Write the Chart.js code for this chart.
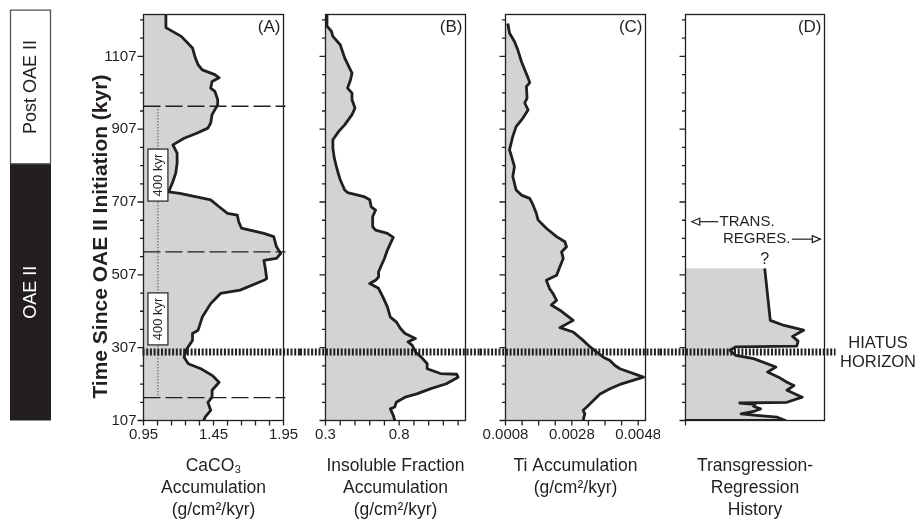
<!DOCTYPE html>
<html>
<head>
<meta charset="utf-8">
<title>OAE II records</title>
<script src="https://cdn.jsdelivr.net/npm/chart.js@4.4.1/dist/chart.umd.min.js"></script>
<style>
  body { margin: 0; background: #fff; }
  #fig { position: relative; width: 918px; height: 520px; overflow: hidden; }
  #fig canvas { position: absolute; top: 0; }
</style>
</head>
<body>
<div id="fig">
  <canvas id="panelA" width="300" height="520" style="left:0px"></canvas>
  <canvas id="panelB" width="180" height="520" style="left:300px"></canvas>
  <canvas id="panelC" width="180" height="520" style="left:480px"></canvas>
  <canvas id="panelD" width="258" height="520" style="left:660px"></canvas>
</div>
<script>
// shared time axis (kyr since OAE II initiation)
const yMin = 107, yMax = 1222;
const yTicks = [107, 157, 207, 257, 307, 357, 407, 457, 507, 557, 607, 657, 707, 757, 807, 857, 907, 957, 1007, 1057, 1107, 1157, 1207];
const yTickLabels = ['107', '', '', '', '307', '', '', '', '507', '', '', '', '707', '', '', '', '907', '', '', '', '1107', '', ''];

// event markers
const hiatusKyr = 295;
const cycleKyr = [970, 570, 170];        // dashed lines in panel A
const cycleLabelKyr = [781, 386];         // "400 kyr" boxes
const oaeEndKyr = 812;                    // OAE II / Post OAE II boundary
const barTopKyr = 1234;

// (A) CaCO3 accumulation
const caco3Time = [1222, 1186, 1162, 1130, 1103, 1084, 1070, 1057, 1048, 1038, 1020, 1011, 988, 974, 947, 924, 910, 896, 882, 864, 841, 813, 786, 763, 735, 731, 713, 694, 676, 671, 653, 635, 630, 621, 612, 584, 566, 552, 547, 525, 497, 492, 465, 456, 428, 391, 355, 346, 327, 304, 281, 263, 249, 231, 212, 190, 171, 157, 135, 116, 107];
const caco3Value = [1.11, 1.11, 1.22, 1.30, 1.32, 1.34, 1.37, 1.46, 1.49, 1.44, 1.43, 1.46, 1.48, 1.48, 1.44, 1.43, 1.41, 1.33, 1.24, 1.16, 1.19, 1.19, 1.18, 1.16, 1.13, 1.21, 1.43, 1.49, 1.55, 1.62, 1.63, 1.65, 1.71, 1.81, 1.88, 1.90, 1.93, 1.90, 1.81, 1.82, 1.83, 1.81, 1.64, 1.50, 1.43, 1.37, 1.34, 1.30, 1.30, 1.26, 1.24, 1.27, 1.36, 1.44, 1.49, 1.44, 1.44, 1.41, 1.43, 1.39, 1.38];
const caco3Ticks = [0.95, 1.05, 1.15, 1.25, 1.35, 1.45, 1.55, 1.65, 1.75, 1.85, 1.95];
const caco3Labels = ['0.95', '', '', '', '', '1.45', '', '', '', '', '1.95'];

// (B) insoluble fraction accumulation
const insolTime = [1222, 1190, 1176, 1162, 1139, 1103, 1061, 1043, 1020, 1006, 988, 965, 947, 919, 901, 878, 855, 827, 795, 768, 740, 733, 722, 713, 694, 685, 667, 639, 630, 621, 610, 593, 575, 552, 534, 515, 501, 492, 483, 470, 446, 419, 391, 378, 359, 346, 332, 323, 313, 295, 281, 263, 249, 236, 234, 226, 208, 194, 180, 171, 157, 144, 139, 121, 107];
const insolValue = [0.31, 0.31, 0.34, 0.35, 0.40, 0.43, 0.48, 0.47, 0.45, 0.48, 0.48, 0.50, 0.48, 0.43, 0.39, 0.35, 0.35, 0.36, 0.38, 0.40, 0.43, 0.45, 0.56, 0.60, 0.61, 0.64, 0.62, 0.62, 0.64, 0.72, 0.76, 0.74, 0.72, 0.70, 0.68, 0.66, 0.66, 0.64, 0.60, 0.66, 0.69, 0.72, 0.74, 0.78, 0.81, 0.84, 0.91, 0.86, 0.89, 0.91, 0.95, 0.99, 0.99, 1.08, 1.19, 1.20, 1.12, 1.01, 0.92, 0.84, 0.78, 0.77, 0.74, 0.76, 0.77];
const insolTicks = [0.3, 0.4, 0.5, 0.6, 0.7, 0.8, 0.9, 1.0, 1.1, 1.2];
const insolLabels = ['0.3', '', '', '', '', '0.8', '', '', '', ''];

// (C) Ti accumulation
const tiTime = [1197, 1171, 1148, 1125, 1093, 1070, 1048, 1035, 1024, 992, 979, 960, 937, 914, 887, 850, 836, 804, 777, 740, 726, 717, 699, 676, 658, 635, 612, 598, 584, 570, 552, 529, 506, 492, 469, 456, 437, 424, 410, 382, 362, 350, 327, 309, 295, 281, 272, 258, 249, 226, 206, 194, 180, 162, 144, 135, 125, 107];
const tiValue = [0.00087, 0.00092, 0.00107, 0.00117, 0.00128, 0.00138, 0.00148, 0.00153, 0.00143, 0.00145, 0.00138, 0.00148, 0.00132, 0.00112, 0.00102, 0.00092, 0.00097, 0.00107, 0.00102, 0.00112, 0.00128, 0.00153, 0.00163, 0.00173, 0.00178, 0.00203, 0.00234, 0.00259, 0.00264, 0.00249, 0.00254, 0.00244, 0.00234, 0.00203, 0.00213, 0.00223, 0.00234, 0.00218, 0.00244, 0.00284, 0.00244, 0.00284, 0.00314, 0.00335, 0.00355, 0.00375, 0.00395, 0.00410, 0.00425, 0.00496, 0.00425, 0.00395, 0.00365, 0.00345, 0.00325, 0.00314, 0.00319, 0.00314];
const tiTicks = [0.0008, 0.0013, 0.0018, 0.0023, 0.0028, 0.0033, 0.0038, 0.0043, 0.0048];
const tiLabels = ['0.0008', '', '', '', '0.0028', '', '', '', '0.0048'];

// (D) transgression-regression history (relative)
const trTime = [525, 382, 368, 355, 338, 325, 311, 309, 300, 286, 277, 254, 240, 226, 212, 203, 190, 171, 157, 155, 151, 146, 139, 133, 125, 121, 116, 107, 107];
const trValue = [0.57, 0.61, 0.71, 0.85, 0.77, 0.81, 0.80, 0.36, 0.32, 0.36, 0.49, 0.65, 0.59, 0.67, 0.73, 0.78, 0.73, 0.84, 0.73, 0.39, 0.50, 0.49, 0.54, 0.50, 0.40, 0.51, 0.66, 0.72, 0];
const trTicks = [0];
const trLabels = [''];

const INK = '#231f20';
const GREY = '#d1d3d4';
const FAMILY = '"Liberation Sans", Arial, Helvetica, sans-serif';
Chart.defaults.font.family = FAMILY;
Chart.defaults.color = INK;

function font(size, weight) {
  return (weight ? weight + ' ' : '') + size + 'px ' + FAMILY;
}

// thick striped hiatus line, drawn across each canvas
function drawHiatus(chart, x0, x1) {
  const {ctx, scales: {y}} = chart;
  const py = y.getPixelForValue(hiatusKyr);
  ctx.save();
  ctx.strokeStyle = INK;
  ctx.lineWidth = 7;
  ctx.setLineDash([2, 1.7]);
  ctx.beginPath();
  ctx.moveTo(x0, py);
  ctx.lineTo(x1, py);
  ctx.stroke();
  ctx.restore();
}

function arrowHead(ctx, x, y, dir) {
  ctx.beginPath();
  ctx.moveTo(x, y);
  ctx.lineTo(x - dir * 8, y - 3.5);
  ctx.lineTo(x - dir * 8, y + 3.5);
  ctx.closePath();
  ctx.fillStyle = '#fff';
  ctx.fill();
  ctx.stroke();
}

// panel A extras: OAE bar, axis title, cycle lines and labels
function decorateA(chart) {
  const {ctx, chartArea: a, scales: {x, y}} = chart;
  ctx.save();
  // stratigraphic bar on the far left
  const top = y.getPixelForValue(barTopKyr);
  const mid = y.getPixelForValue(oaeEndKyr);
  const bot = y.getPixelForValue(yMin);
  ctx.fillStyle = INK;
  ctx.fillRect(10, mid, 41, bot - mid);
  ctx.strokeStyle = '#555';
  ctx.lineWidth = 1.3;
  ctx.strokeRect(10.5, top, 40, mid - top);
  ctx.font = font(18);
  ctx.textAlign = 'center';
  ctx.textBaseline = 'middle';
  ctx.save();
  ctx.translate(31, (top + mid) / 2);
  ctx.rotate(-Math.PI / 2);
  ctx.fillStyle = INK;
  ctx.fillText('Post OAE II', 0, 0);
  ctx.restore();
  ctx.save();
  ctx.translate(31, (mid + bot) / 2);
  ctx.rotate(-Math.PI / 2);
  ctx.fillStyle = '#fff';
  ctx.fillText('OAE II', 0, 0);
  ctx.restore();

  // vertical axis title
  ctx.save();
  ctx.translate(101, y.getPixelForValue(612));
  ctx.rotate(-Math.PI / 2);
  ctx.fillStyle = INK;
  ctx.font = font(21, 'bold');
  ctx.fillText('Time Since OAE II Initiation (kyr)', 0, 0);
  ctx.restore();

  // dotted 400 kyr guide
  const dx = x.getPixelForValue(1.053);
  ctx.strokeStyle = INK;
  ctx.lineWidth = 1;
  ctx.setLineDash([1, 2]);
  ctx.beginPath();
  ctx.moveTo(dx, y.getPixelForValue(cycleKyr[0]));
  ctx.lineTo(dx, y.getPixelForValue(cycleKyr[cycleKyr.length - 1]));
  ctx.stroke();

  // dashed cycle boundaries
  ctx.setLineDash([17, 5]);
  ctx.lineWidth = 1.3;
  ctx.beginPath();
  cycleKyr.forEach(k => {
    const py = y.getPixelForValue(k);
    ctx.moveTo(a.left, py);
    ctx.lineTo(a.right + 2, py);
  });
  ctx.stroke();
  ctx.setLineDash([]);

  // 400 kyr boxes
  ctx.font = font(13);
  cycleLabelKyr.forEach(k => {
    const py = y.getPixelForValue(k);
    ctx.fillStyle = '#fff';
    ctx.fillRect(dx - 10, py - 26, 20, 52);
    ctx.strokeStyle = INK;
    ctx.lineWidth = 1.2;
    ctx.strokeRect(dx - 10, py - 26, 20, 52);
    ctx.save();
    ctx.translate(dx, py);
    ctx.rotate(-Math.PI / 2);
    ctx.fillStyle = INK;
    ctx.fillText('400 kyr', 0, 1);
    ctx.restore();
  });
  ctx.restore();
}

// panel D extras: arrows, question mark, hiatus label
function decorateD(chart) {
  const {ctx, chartArea: a, scales: {x, y}} = chart;
  ctx.save();
  ctx.strokeStyle = INK;
  ctx.fillStyle = INK;
  ctx.lineWidth = 1.2;
  ctx.font = font(15);
  ctx.textBaseline = 'middle';

  const ty = y.getPixelForValue(653);
  ctx.beginPath();
  ctx.moveTo(x.getPixelForValue(0.06), ty);
  ctx.lineTo(x.getPixelForValue(0.235), ty);
  ctx.stroke();
  arrowHead(ctx, x.getPixelForValue(0.045), ty, -1);
  ctx.fillStyle = INK;
  ctx.textAlign = 'left';
  ctx.fillText('TRANS.', x.getPixelForValue(0.245), ty);

  const ry = y.getPixelForValue(605);
  ctx.textAlign = 'right';
  ctx.fillText('REGRES.', x.getPixelForValue(0.755), ry);
  ctx.beginPath();
  ctx.moveTo(x.getPixelForValue(0.765), ry);
  ctx.lineTo(x.getPixelForValue(0.95), ry);
  ctx.stroke();
  arrowHead(ctx, x.getPixelForValue(0.97), ry, 1);

  ctx.fillStyle = INK;
  ctx.font = font(16);
  ctx.textAlign = 'center';
  ctx.textBaseline = 'bottom';
  ctx.fillText('?', x.getPixelForValue(trValue[0]), y.getPixelForValue(trTime[0]) - 1);

  const hy = y.getPixelForValue(hiatusKyr);
  ctx.font = font(16.5);
  ctx.textBaseline = 'middle';
  ctx.fillText('HIATUS', 218, hy - 9);
  ctx.fillText('HORIZON', 218, hy + 10);
  ctx.restore();
}

function makePanel(id, p) {
  const framePlugin = {
    id: 'frame' + p.letter,
    afterDatasetsDraw(chart) {
      const {ctx, chartArea: a, scales: {x, y}} = chart;
      if (p.decorate) p.decorate(chart);
      ctx.save();
      ctx.strokeStyle = INK;
      ctx.lineWidth = 1.3;
      ctx.strokeRect(a.left, a.top, a.right - a.left, a.bottom - a.top);
      ctx.beginPath();
      yTicks.forEach((v, i) => {
        const py = y.getPixelForValue(v);
        const len = yTickLabels[i] ? 6 : 3.5;
        ctx.moveTo(a.left - len, py);
        ctx.lineTo(a.left, py);
      });
      p.ticks.forEach(v => {
        const px = x.getPixelForValue(v);
        ctx.moveTo(px, a.bottom);
        ctx.lineTo(px, a.bottom + 5);
      });
      ctx.stroke();
      ctx.fillStyle = INK;
      ctx.font = font(17);
      ctx.textAlign = 'right';
      ctx.textBaseline = 'middle';
      ctx.fillText('(' + p.letter + ')', a.right - 3, a.top + 13);
      ctx.restore();
      drawHiatus(chart, p.hiatusFrom(a), p.hiatusTo(a, chart.width));
    }
  };

  return new Chart(document.getElementById(id), {
    type: 'line',
    data: {
      datasets: [{
        data: p.time.map((t, i) => ({x: p.value[i], y: t})),
        fill: {value: p.min},
        backgroundColor: GREY,
        borderColor: INK,
        borderWidth: 2.8,
        borderJoinStyle: 'round',
        pointRadius: 0,
        tension: 0
      }]
    },
    options: {
      indexAxis: 'y',
      responsive: false,
      animation: false,
      events: [],
      layout: {padding: {left: 0, top: 14.5, right: p.padRight, bottom: 0}},
      plugins: {legend: {display: false}, tooltip: {enabled: false}},
      scales: {
        x: {
          type: 'linear',
          position: 'bottom',
          min: p.min,
          max: p.max,
          grid: {display: false, drawTicks: false},
          border: {display: false},
          afterBuildTicks: s => { s.ticks = p.ticks.map(v => ({value: v})); },
          ticks: {
            padding: 5,
            autoSkip: false,
            maxRotation: 0,
            color: INK,
            font: {size: 15},
            callback: (v, i) => p.labels[i]
          },
          title: {
            display: true,
            text: p.title,
            color: INK,
            font: {size: 17.5, lineHeight: 1.26},
            padding: {top: 0, bottom: -1}
          },
          afterFit: s => { s.height = 99.5; s.paddingLeft = 0; s.paddingRight = 0; }
        },
        y: {
          type: 'linear',
          position: 'left',
          min: yMin,
          max: yMax,
          grid: {display: false, drawTicks: false},
          border: {display: false},
          afterBuildTicks: s => { s.ticks = yTicks.map(v => ({value: v})); },
          ticks: {
            display: p.letter === 'A',
            padding: 7,
            autoSkip: false,
            color: INK,
            font: {size: 15},
            callback: (v, i) => yTickLabels[i]
          },
          afterFit: s => { s.width = p.left; s.paddingTop = 0; s.paddingBottom = 0; }
        }
      }
    },
    plugins: [framePlugin]
  });
}

makePanel('panelA', {
  letter: 'A', time: caco3Time, value: caco3Value, min: 0.95, max: 1.95,
  ticks: caco3Ticks, labels: caco3Labels,
  title: ['CaCO₃', 'Accumulation', '(g/cm²/kyr)'],
  left: 143.5, padRight: 16.5, decorate: decorateA,
  hiatusFrom: a => a.left - 1, hiatusTo: (a, w) => w
});
makePanel('panelB', {
  letter: 'B', time: insolTime, value: insolValue, min: 0.3, max: 1.25,
  ticks: insolTicks, labels: insolLabels,
  title: ['Insoluble Fraction', 'Accumulation', '(g/cm²/kyr)'],
  left: 25.5, padRight: 14.5,
  hiatusFrom: () => 0, hiatusTo: (a, w) => w
});
makePanel('panelC', {
  letter: 'C', time: tiTime, value: tiValue, min: 0.0008, max: 0.00502,
  ticks: tiTicks, labels: tiLabels,
  title: ['Ti Accumulation', '(g/cm²/kyr)', ''],
  left: 25.5, padRight: 14.5,
  hiatusFrom: () => 0, hiatusTo: (a, w) => w
});
makePanel('panelD', {
  letter: 'D', time: trTime, value: trValue, min: 0, max: 1,
  ticks: trTicks, labels: trLabels,
  title: ['Transgression-', 'Regression', 'History'],
  left: 25.5, padRight: 93.5, decorate: decorateD,
  hiatusFrom: () => 0, hiatusTo: a => a.right + 11
});
</script>
</body>
</html>
